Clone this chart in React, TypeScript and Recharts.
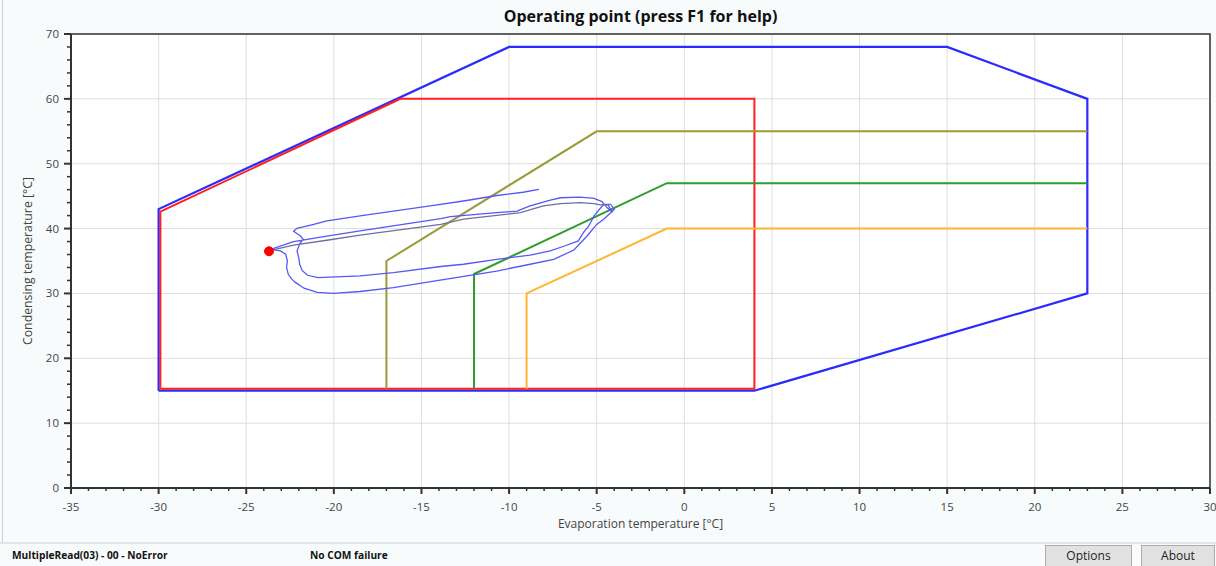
import React from 'react';
import { ComposedChart, Line, XAxis, YAxis, CartesianGrid, ReferenceArea } from 'recharts';

type Pt = { x: number; y: number };

const FONT = '"Open Sans", "Noto Sans", sans-serif';
const AXIS = '#333';
const PANEL = '#f8fbfc';

// axis ticks: labelled every 5 °C / 10 °C, minor marks every 1 °C / 2 °C
const xMajorTicks = [-35, -30, -25, -20, -15, -10, -5, 0, 5, 10, 15, 20, 25, 30];
const yMajorTicks = [0, 10, 20, 30, 40, 50, 60, 70];
const xAllTicks: number[] = [];
for (let v = -35; v <= 30; v++) xAllTicks.push(v);
const yAllTicks: number[] = [];
for (let v = 0; v <= 70; v += 2) yAllTicks.push(v);

// compressor envelope (outer) and the inner operating limits
const envelopeBlue: Pt[] = [
  { x: -30, y: 15 }, { x: -30, y: 43 }, { x: -10, y: 68 }, { x: 15, y: 68 },
  { x: 23, y: 60 }, { x: 23, y: 30 }, { x: 4, y: 15 }, { x: -30, y: 15 },
];
const limitRed: Pt[] = [
  { x: -29.9, y: 15.3 }, { x: -29.9, y: 42.6 }, { x: -16.2, y: 60 },
  { x: 4, y: 60 }, { x: 4, y: 15.3 }, { x: -29.9, y: 15.3 },
];
const limitOlive: Pt[] = [
  { x: -17, y: 15.3 }, { x: -17, y: 35 }, { x: -5, y: 55 }, { x: 23, y: 55 },
];
const limitGreen: Pt[] = [
  { x: -12, y: 15.3 }, { x: -12, y: 33 }, { x: -1, y: 47 }, { x: 23, y: 47 },
];
const limitOrange: Pt[] = [
  { x: -9, y: 15.3 }, { x: -9, y: 30 }, { x: -1, y: 40 }, { x: 23, y: 40 },
];

// recorded operating point history
const traceHistory: Pt[] = [
  { x: -8.3, y: 46.05 }, { x: -9.2, y: 45.6 }, { x: -10.7, y: 45.1 }, { x: -12.6, y: 44.25 },
  { x: -14.5, y: 43.5 }, { x: -16.6, y: 42.7 }, { x: -18.5, y: 41.95 }, { x: -20.4, y: 41.2 },
  { x: -21.15, y: 40.65 }, { x: -22.1, y: 40.05 }, { x: -22.3, y: 39.6 }, { x: -21.9, y: 38.85 },
  { x: -21.75, y: 38.35 }, { x: -21.95, y: 37.6 }, { x: -22.1, y: 36.55 }, { x: -22.0, y: 35.5 },
  { x: -21.95, y: 34.5 }, { x: -21.8, y: 33.5 }, { x: -21.5, y: 32.8 }, { x: -20.9, y: 32.45 },
  { x: -18.5, y: 32.7 }, { x: -16.6, y: 33.2 }, { x: -13.9, y: 34.15 }, { x: -12.6, y: 34.5 },
  { x: -10.7, y: 35.25 }, { x: -8.8, y: 35.9 }, { x: -7.65, y: 36.55 }, { x: -6.8, y: 37.35 },
  { x: -6.05, y: 38.1 }, { x: -5.75, y: 39.4 }, { x: -5.45, y: 40.4 }, { x: -5.15, y: 41.95 },
  { x: -4.6, y: 43.75 }, { x: -4.35, y: 43.65 }, { x: -4.1, y: 42.5 },
  { x: -4.4, y: 43.2 }, { x: -4.7, y: 44.15 }, { x: -5.15, y: 44.65 }, { x: -5.95, y: 44.85 },
  { x: -7.05, y: 44.75 }, { x: -7.65, y: 44.4 }, { x: -8.8, y: 43.5 }, { x: -9.55, y: 42.7 },
  { x: -10.7, y: 42.45 }, { x: -13.35, y: 41.85 }, { x: -13.9, y: 41.55 }, { x: -18.5, y: 39.65 },
  { x: -20.4, y: 38.85 }, { x: -22.3, y: 38.0 }, { x: -23.6, y: 36.8 },
  { x: -23.05, y: 36.55 }, { x: -22.75, y: 36.05 }, { x: -22.65, y: 35.0 }, { x: -22.7, y: 34.0 },
  { x: -22.6, y: 32.95 }, { x: -22.4, y: 32.2 }, { x: -22.2, y: 31.7 }, { x: -21.7, y: 30.8 },
  { x: -20.95, y: 30.15 }, { x: -20.0, y: 30.0 }, { x: -18.5, y: 30.3 }, { x: -16.6, y: 30.9 },
  { x: -14.2, y: 31.95 }, { x: -10.7, y: 33.45 }, { x: -8.8, y: 34.5 }, { x: -7.45, y: 35.25 },
  { x: -6.3, y: 36.7 }, { x: -5.55, y: 38.85 }, { x: -5.0, y: 40.65 }, { x: -4.6, y: 41.45 },
  { x: -4.2, y: 42.45 }, { x: -4.0, y: 42.95 }, { x: -4.2, y: 43.75 },
];
const traceReturn: Pt[] = [
  { x: -4.2, y: 43.75 }, { x: -4.8, y: 43.65 }, { x: -5.15, y: 43.85 }, { x: -5.95, y: 44.0 },
  { x: -7.05, y: 43.85 }, { x: -8.05, y: 43.5 }, { x: -9.35, y: 42.45 }, { x: -12.6, y: 41.45 },
  { x: -13.9, y: 40.65 }, { x: -18.5, y: 39.0 }, { x: -20.4, y: 38.2 }, { x: -22.3, y: 37.45 },
  { x: -23.6, y: 36.65 },
];
const currentPoint: Pt[] = [{ x: -23.7, y: 36.5 }];

const XTick = (props: any) => {
  const { x, y, payload } = props;
  const major = payload.value % 5 === 0;
  return (
    <g>
      <line x1={x} x2={x} y1={y} y2={y + (major ? 6 : 3)} stroke={AXIS} strokeWidth={major ? 2 : 1.5} />
      {major && (
        <text x={x} y={y + 23} textAnchor="middle" fontSize={11.5} fill="#444" fontFamily={FONT}>
          {payload.value}
        </text>
      )}
    </g>
  );
};

const YTick = (props: any) => {
  const { x, y, payload } = props;
  const major = payload.value % 10 === 0;
  return (
    <g>
      <line x1={x} x2={x - (major ? 7 : 4)} y1={y} y2={y} stroke={AXIS} strokeWidth={major ? 2 : 1.5} />
      {major && (
        <text x={x - 12} y={y + 4} textAnchor="end" fontSize={11.5} fill="#444" fontFamily={FONT}>
          {payload.value}
        </text>
      )}
    </g>
  );
};

const Btn = ({ left, width, text }: { left: number; width: number; text: string }) => (
  <div
    style={{
      position: 'absolute', left, top: 545, width, height: 24, boxSizing: 'border-box',
      background: '#e1e1e1', border: '1px solid #adadad', fontSize: 12, color: '#222',
      textAlign: 'center', lineHeight: '20px',
    }}
  >
    {text}
  </div>
);

export default function App() {
  const series = (data: Pt[], stroke: string, width: number, key: string, extra: any = {}) => (
    <Line
      key={key}
      data={data}
      dataKey="y"
      type="linear"
      stroke={stroke}
      strokeWidth={width}
      dot={false}
      activeDot={false}
      isAnimationActive={false}
      {...extra}
    />
  );

  return (
    <div
      style={{
        position: 'absolute', left: 0, top: 0, width: 1216, height: 566,
        background: PANEL, fontFamily: FONT, overflow: 'hidden',
      }}
    >
      <div style={{ position: 'absolute', left: 2, top: 0, width: 1, height: 542, background: '#cdd2d5' }} />
      <div style={{ position: 'absolute', left: 0, top: 0 }}>
        <ComposedChart width={1216} height={543} margin={{ top: 34, right: 6, bottom: 0, left: 0 }}>
          <CartesianGrid
            fill="#ffffff"
            stroke="#dedede"
            verticalValues={xMajorTicks}
            horizontalValues={yMajorTicks}
          />
          <XAxis
            dataKey="x"
            type="number"
            domain={[-35, 30]}
            ticks={xAllTicks}
            interval={0}
            allowDataOverflow
            height={55}
            tickSize={0}
            tickMargin={0}
            tickLine={false}
            tick={<XTick />}
            axisLine={{ stroke: AXIS, strokeWidth: 2 }}
            label={{ value: 'Evaporation temperature [°C]', position: 'insideBottom', offset: 15, fill: '#444', fontSize: 12, fontFamily: FONT }}
          />
          <YAxis
            type="number"
            domain={[0, 70]}
            ticks={yAllTicks}
            interval={0}
            allowDataOverflow
            width={71}
            tickSize={0}
            tickMargin={0}
            tickLine={false}
            tick={<YTick />}
            axisLine={{ stroke: AXIS, strokeWidth: 2 }}
            label={{
              value: 'Condensing temperature [°C]', angle: -90, position: 'insideLeft', offset: 28,
              fill: '#444', fontSize: 12.3, fontFamily: FONT, style: { textAnchor: 'middle' },
            }}
          />
          <ReferenceArea x1={-35} x2={30} y1={0} y2={70} fill="none" stroke={AXIS} strokeWidth={1.5} ifOverflow="visible" />
          {series(envelopeBlue, '#2b2bff', 2.2, 'blue')}
          {series(limitRed, '#ff2020', 2, 'red')}
          {series(limitOlive, '#9a9a3a', 2, 'olive')}
          {series(limitGreen, '#2e9c2e', 2, 'green')}
          {series(limitOrange, '#ffb531', 2, 'orange')}
          {series(traceHistory, '#5757f7', 1.3, 'trace')}
          {series(traceReturn, '#6f6f9c', 1.3, 'return')}
          {series(currentPoint, 'none', 0, 'current', {
            dot: { r: 4.5, fill: '#ff0000', stroke: '#ff0000', strokeWidth: 1 },
          })}
        </ComposedChart>
      </div>
      <div
        style={{
          position: 'absolute', left: 71, top: 6, width: 1139, textAlign: 'center',
          fontWeight: 700, fontSize: 16, color: '#111', lineHeight: '20px',
        }}
      >
        Operating point (press F1 for help)
      </div>
      <div style={{ position: 'absolute', left: 0, top: 542, width: 1216, height: 2, background: '#e3e6e8' }} />
      <div style={{ position: 'absolute', left: 12, top: 548, fontSize: 10.2, fontWeight: 700, color: '#111' }}>
        MultipleRead(03) - 00 - NoError
      </div>
      <div style={{ position: 'absolute', left: 310, top: 548, fontSize: 10.2, fontWeight: 700, color: '#111' }}>
        No COM failure
      </div>
      <Btn left={1045} width={87} text="Options" />
      <Btn left={1141} width={74} text="About" />
    </div>
  );
}
